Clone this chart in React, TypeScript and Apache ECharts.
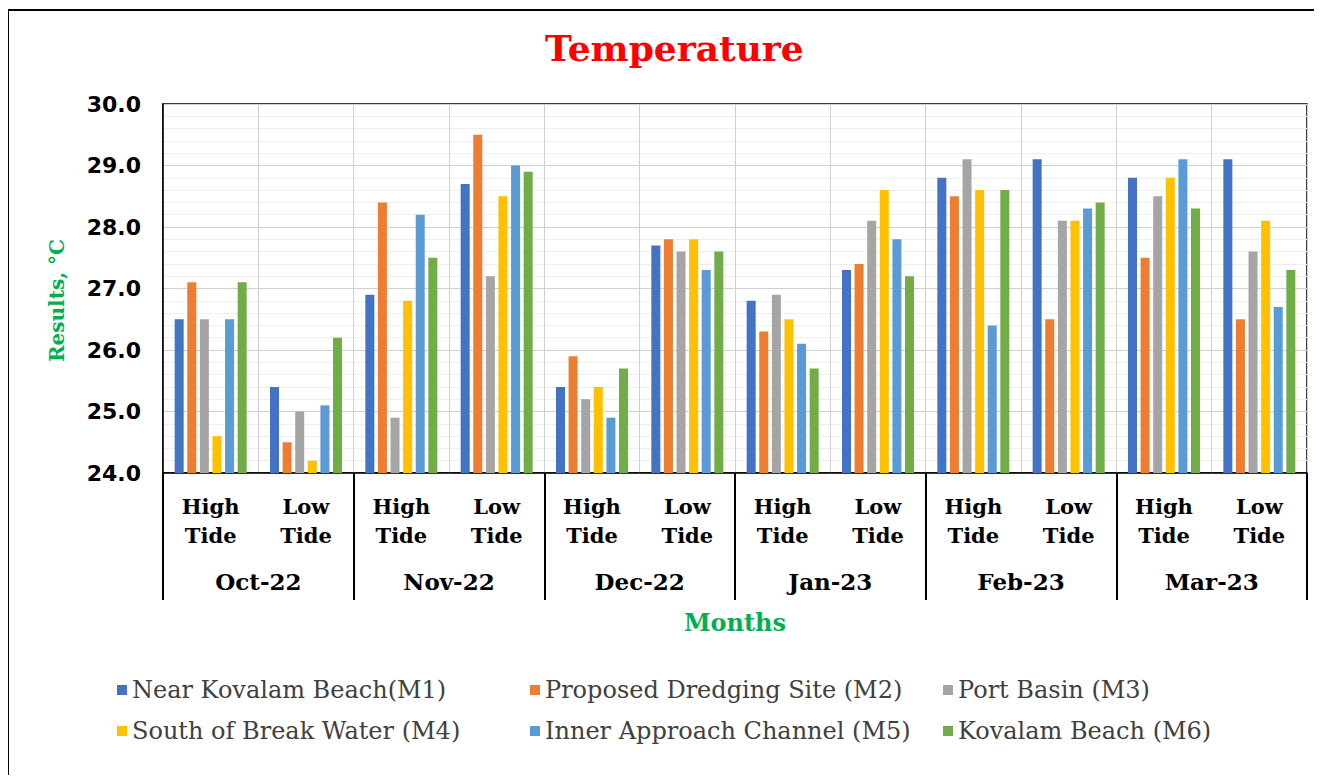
import React, { useEffect, useRef } from "react";
import * as echarts from "echarts";

const tides = ["High\nTide", "Low\nTide", "High\nTide", "Low\nTide", "High\nTide", "Low\nTide", "High\nTide", "Low\nTide", "High\nTide", "Low\nTide", "High\nTide", "Low\nTide"];
const months = ["Oct-22", "Nov-22", "Dec-22", "Jan-23", "Feb-23", "Mar-23"];
const yTicks = [24, 25, 26, 27, 28, 29, 30];

const seriesNames = [
  "Near Kovalam Beach(M1)",
  "Proposed Dredging Site (M2)",
  "Port Basin (M3)",
  "South of Break Water (M4)",
  "Inner Approach Channel (M5)",
  "Kovalam Beach (M6)",
];
const colors = ["#4472c4", "#ed7d31", "#a5a5a5", "#ffc000", "#5b9bd5", "#70ad47"];

const m1 = [26.5, 25.4, 26.9, 28.7, 25.4, 27.7, 26.8, 27.3, 28.8, 29.1, 28.8, 29.1];
const m2 = [27.1, 24.5, 28.4, 29.5, 25.9, 27.8, 26.3, 27.4, 28.5, 26.5, 27.5, 26.5];
const m3 = [26.5, 25.0, 24.9, 27.2, 25.2, 27.6, 26.9, 28.1, 29.1, 28.1, 28.5, 27.6];
const m4 = [24.6, 24.2, 26.8, 28.5, 25.4, 27.8, 26.5, 28.6, 28.6, 28.1, 28.8, 28.1];
const m5 = [26.5, 25.1, 28.2, 29.0, 24.9, 27.3, 26.1, 27.8, 26.4, 28.3, 29.1, 26.7];
const m6 = [27.1, 26.2, 27.5, 28.9, 25.7, 27.6, 25.7, 27.2, 28.6, 28.4, 28.3, 27.3];
const allValues = [m1, m2, m3, m4, m5, m6];

export default function App() {
  const ref = useRef<HTMLDivElement>(null);
  useEffect(() => {
    if (!ref.current) return;
    const chart = echarts.init(ref.current, null, { renderer: "svg" });
    const serif = "DejaVu Serif";
    const legendText = { fontFamily: serif, fontSize: 24, color: "#404040" };
    const mkLegend = (left: number, names: string[]) => ({
      orient: "vertical",
      left,
      top: 678,
      padding: 0,
      itemWidth: 10,
      itemHeight: 10,
      itemGap: 17,
      icon: "rect",
      textStyle: legendText,
      data: names,
    });
    chart.setOption({
      animation: false,
      backgroundColor: "#ffffff",
      title: {
        text: "Temperature",
        left: 545,
        top: 30,
        padding: 0,
        textStyle: { fontFamily: serif, fontWeight: "bold", fontSize: 36, color: "#ff0000" },
      },
      grid: {
        left: 163,
        top: 104,
        right: 15,
        bottom: 310,
        show: true,
        borderColor: "#000000",
        borderWidth: 1.5,
      },
      legend: [
        mkLegend(117, [seriesNames[0], seriesNames[3]]),
        mkLegend(530, [seriesNames[1], seriesNames[4]]),
        mkLegend(943, [seriesNames[2], seriesNames[5]]),
      ],
      xAxis: [
        {
          type: "category",
          data: tides,
          position: "bottom",
          axisLine: { show: true, lineStyle: { color: "#000000", width: 1.5 } },
          axisTick: { show: false },
          splitLine: { show: true, lineStyle: { color: "#d0d0d0", width: 1 } },
          axisLabel: {
            interval: 0,
            margin: 19,
            fontFamily: serif,
            fontWeight: "bold",
            fontSize: 21,
            lineHeight: 29,
            color: "#000000",
          },
        },
        {
          type: "category",
          data: months,
          position: "bottom",
          axisLine: { show: false },
          axisTick: { show: true, length: 127, lineStyle: { color: "#000000", width: 2 } },
          splitLine: { show: false },
          axisLabel: {
            interval: 0,
            margin: 97,
            fontFamily: serif,
            fontWeight: "bold",
            fontSize: 23,
            color: "#000000",
          },
          name: "Months",
          nameLocation: "middle",
          nameGap: 137,
          nameTextStyle: { fontFamily: serif, fontWeight: "bold", fontSize: 24, color: "#00b050" },
        },
      ],
      yAxis: {
        type: "value",
        min: yTicks[0],
        max: yTicks[yTicks.length - 1],
        interval: 1,
        axisLine: { show: true, lineStyle: { color: "#000000", width: 1.5 } },
        axisTick: { show: false },
        splitLine: { show: true, lineStyle: { color: "#d0d0d0", width: 1 } },
        minorTick: { show: false, splitNumber: 5 },
        minorSplitLine: { show: true, lineStyle: { color: "#eeeeee", width: 1 } },
        axisLabel: {
          margin: 22,
          fontFamily: "DejaVu Sans",
          fontWeight: "bold",
          fontSize: 22,
          color: "#000000",
          formatter: (v: number) => v.toFixed(1),
        },
        name: "Results, °C",
        nameLocation: "middle",
        nameGap: 96,
        nameTextStyle: {
          fontFamily: serif,
          fontWeight: "bold",
          fontSize: 20,
          color: "#00b050",
          padding: [0, 24, 0, 0],
        },
      },
      graphic: [
        {
          type: "rect",
          left: 7,
          top: 9,
          shape: { width: 1315, height: 2 },
          style: { fill: "#000000" },
          silent: true,
          z: 100,
        },
        {
          type: "rect",
          left: 7,
          top: 9,
          shape: { width: 2, height: 774 },
          style: { fill: "#000000" },
          silent: true,
          z: 100,
        },
      ],
      series: seriesNames.map((name, i) => ({
        name,
        type: "bar",
        xAxisIndex: 0,
        data: allValues[i],
        barWidth: 9,
        barGap: "40%",
        itemStyle: { color: colors[i] },
      })),
    });
    return () => chart.dispose();
  }, []);
  return <div ref={ref} style={{ width: 1322, height: 783, margin: -8 }} />;
}
